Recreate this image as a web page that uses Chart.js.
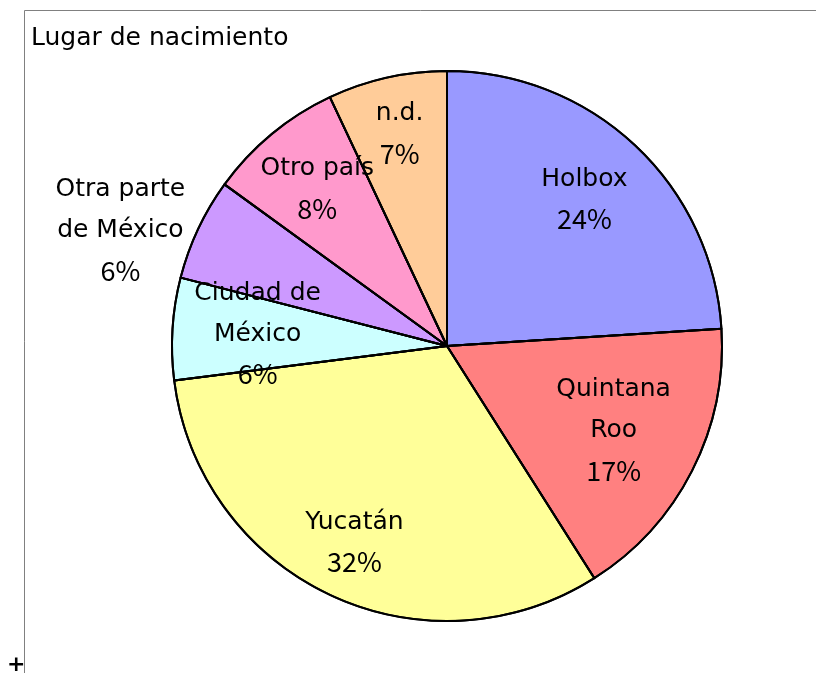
<!DOCTYPE html>
<html>
<head>
<meta charset="utf-8">
<script src="https://cdn.jsdelivr.net/npm/chart.js@4"></script>
<style>
  html, body { margin: 0; padding: 0; background: #fff; }
  #wrap { width: 817px; height: 673px; position: relative; }
</style>
</head>
<body>
<div id="wrap"><canvas id="lugarChart"></canvas></div>
<script>
const lugares = [
    ['Holbox'],
    ['Quintana', 'Roo'],
    ['Yucatán'],
    ['Ciudad de', 'México'],
    ['Otra parte', 'de México'],
    ['Otro país'],
    ['n.d.']
];
const porcentajes = [24, 17, 32, 6, 6, 8, 7];
const colores = ['#9999FF', '#FF8080', '#FFFF99', '#CCFFFF', '#CC99FF', '#FF99CC', '#FFCC99'];

// label placement: distance from centre (fraction of radius) and a small angular nudge (degrees)
const labelRadius = [0.73, 0.68, 0.79, 0.69, 1.26, 0.74, 0.79];
const labelNudge = [0, 0, 0, 0, -5.7, 0, 0];
const FONT = '"DejaVu Sans", sans-serif';
const PCT_FONT = '27px "Noto Sans CJK JP", sans-serif';

// frame, title and the little cross in the corner
const framePlugin = {
    id: 'frame',
    beforeDraw(chart) {
        const ctx = chart.ctx;
        ctx.save();
        ctx.fillStyle = '#fff';
        ctx.fillRect(0, 0, chart.width, chart.height);
        ctx.strokeStyle = '#808080';
        ctx.lineWidth = 1;
        ctx.beginPath();
        ctx.moveTo(24.5, chart.height);
        ctx.lineTo(24.5, 10.5);
        ctx.lineTo(816, 10.5);
        ctx.stroke();
        ctx.fillStyle = '#000';
        ctx.font = '25px ' + FONT;
        ctx.textAlign = 'left';
        ctx.textBaseline = 'middle';
        ctx.fillText('Lugar de nacimiento', 31, 38);
        ctx.font = 'bold 22px ' + FONT;
        ctx.fillText('+', 7, 665);
        ctx.restore();
    }
};

// labels go on top of the fills, then the outlines are stroked again over them
const labelPlugin = {
    id: 'sliceLabels',
    afterDatasetsDraw(chart) {
        const ctx = chart.ctx;
        const meta = chart.getDatasetMeta(0);
        ctx.save();
        ctx.fillStyle = '#000';
        ctx.textAlign = 'center';
        ctx.textBaseline = 'middle';
        meta.data.forEach((arc, i) => {
            const mid = (arc.startAngle + arc.endAngle) / 2 + labelNudge[i] * Math.PI / 180;
            const r = arc.outerRadius * labelRadius[i];
            const cx = arc.x + Math.cos(mid) * r;
            const cy = arc.y + Math.sin(mid) * r;
            const lines = lugares[i].concat([porcentajes[i] + '%']);
            const lh = 41;
            lines.forEach((t, k) => {
                const last = k === lines.length - 1;
                ctx.font = last ? PCT_FONT : '25px ' + FONT;
                ctx.fillText(t, cx, cy + (k - (lines.length - 1) / 2) * lh - (last ? 1 : 0));
            });
        });
        ctx.strokeStyle = '#000';
        ctx.lineWidth = 2;
        ctx.lineJoin = 'round';
        meta.data.forEach(arc => {
            ctx.beginPath();
            ctx.moveTo(arc.x, arc.y);
            ctx.arc(arc.x, arc.y, arc.outerRadius, arc.startAngle, arc.endAngle);
            ctx.closePath();
            ctx.stroke();
        });
        ctx.restore();
    }
};

new Chart(document.getElementById('lugarChart'), {
    type: 'pie',
    data: {
        labels: lugares,
        datasets: [{
            data: porcentajes,
            backgroundColor: colores,
            borderColor: '#000',
            borderWidth: 2,
            radius: 275
        }]
    },
    options: {
        responsive: true,
        maintainAspectRatio: false,
        animation: false,
        layout: { padding: { left: 100, right: 23, top: 40, bottom: 21 } },
        plugins: {
            legend: { display: false },
            tooltip: { enabled: false }
        }
    },
    plugins: [framePlugin, labelPlugin]
});
</script>
</body>
</html>
